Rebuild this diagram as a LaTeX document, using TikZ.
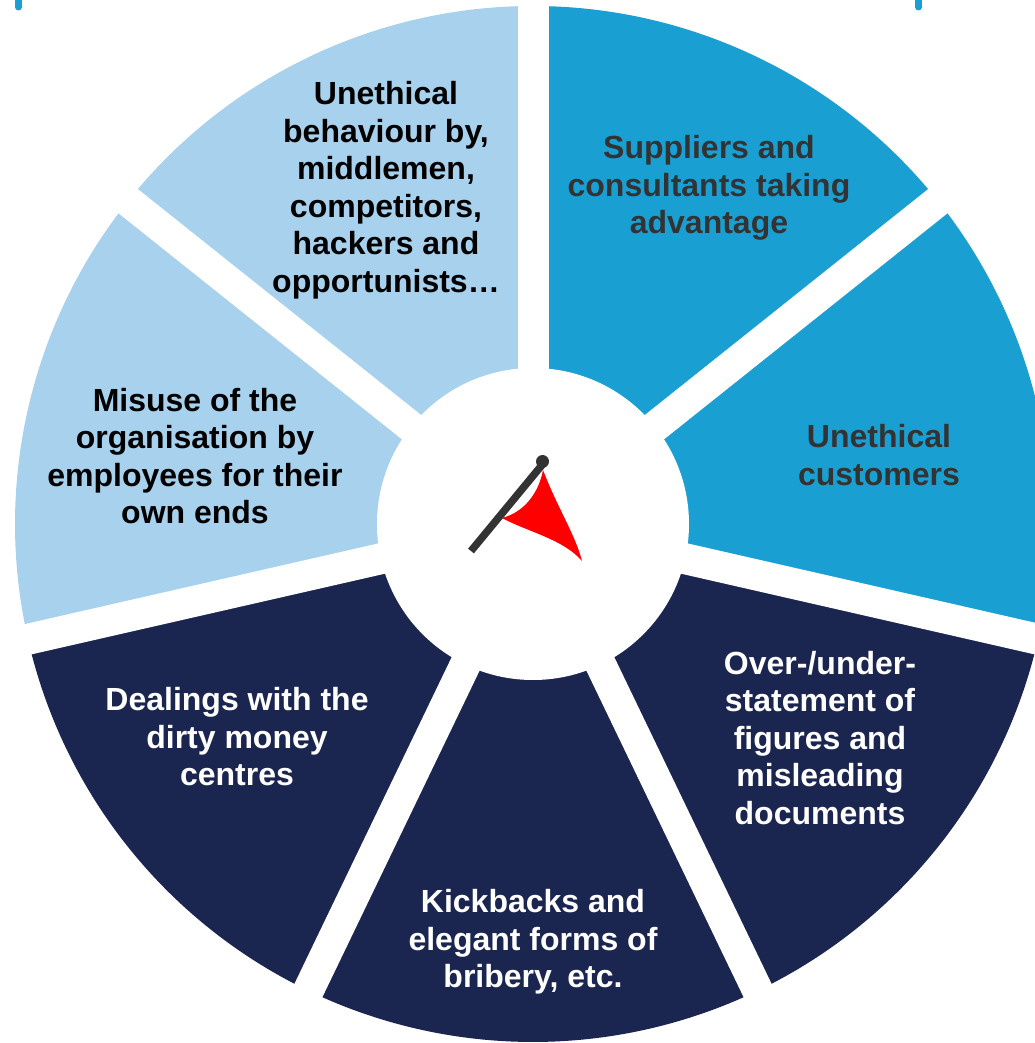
\documentclass[tikz,border=0pt]{standalone}
\usepackage{fontspec}
\setmainfont{Liberation Sans}
\usepackage{tikz}
\definecolor{paleblue}{HTML}{A7D1EC}
\definecolor{midblue}{HTML}{1A9FD2}
\definecolor{navy}{HTML}{1B2650}
\definecolor{flagred}{HTML}{FF0000}
\definecolor{polegray}{HTML}{333333}
\definecolor{textgray}{HTML}{333333}

\begin{document}
\begin{tikzpicture}[x=1pt,y=1pt]
      \tikzstyle{every node}+=[inner sep=0pt, align=center, font=\fontsize{32}{37.5}\selectfont\bfseries]
      \useasboundingbox (-533,-519) rectangle (501,524);
      % sectors of the wheel
      \fill [paleblue] (0,0) -- (90:518) arc (90:141.43:518) -- cycle;
      \fill [paleblue] (0,0) -- (141.43:518) arc (141.43:192.86:518) -- cycle;
      \fill [navy] (0,0) -- (192.86:518) arc (192.86:244.29:518) -- cycle;
      \fill [navy] (0,0) -- (244.29:518) arc (244.29:295.71:518) -- cycle;
      \fill [navy] (0,0) -- (295.71:518) arc (295.71:347.14:518) -- cycle;
      \fill [midblue] (0,0) -- (-12.86:518) arc (-12.86:38.57:518) -- cycle;
      \fill [midblue] (0,0) -- (38.57:518) arc (38.57:90:518) -- cycle;
      % gaps and hub
      \foreach \a in {90,38.57,-12.86,-64.29,-115.71,-167.14,141.43}
        \draw [white, line width=31] (0,0) -- (\a:540);
      \fill [white] (0,0) circle (156);
      % small marks at the top edge
      \draw [midblue, line width=7, line cap=round] (-514.5,528) -- (-514.5,517);
      \draw [midblue, line width=7, line cap=round] (385.5,528) -- (385.5,517);
      % flag
      \fill [flagred] (10,54) .. controls (6,32) and (-8,12) .. (-31,6)
        .. controls (-5,-8) and (30,-15) .. (49,-37)
        .. controls (42,-10) and (25,15) .. (10,54) -- cycle;
      \draw [polegray, line width=7.5] (-62,-27) -- (9,59);
      \fill [polegray] (9.5,62.5) circle (6.5);
      % labels
      \node (behaviour) at (-147,334) {Unethical\\behaviour by,\\middlemen,\\competitors,\\hackers and\\opportunists…};
      \node [text=textgray] (suppliers) at (176,336) {Suppliers and\\consultants taking\\advantage};
      \node [text=textgray] (customers) at (346,69) {Unethical\\customers};
      \node (misuse) at (-338,68) {Misuse of the\\organisation by\\employees for their\\own ends};
      \node [text=white] (dealings) at (-296,-213) {Dealings with the\\dirty money\\centres};
      \node [text=white] (statement) at (287,-214) {Over-/under-\\statement of\\figures and\\misleading\\documents};
      \node [text=white] (kickbacks) at (0,-418) {Kickbacks and\\elegant forms of\\bribery, etc.};
    \end{tikzpicture}
\end{document}
